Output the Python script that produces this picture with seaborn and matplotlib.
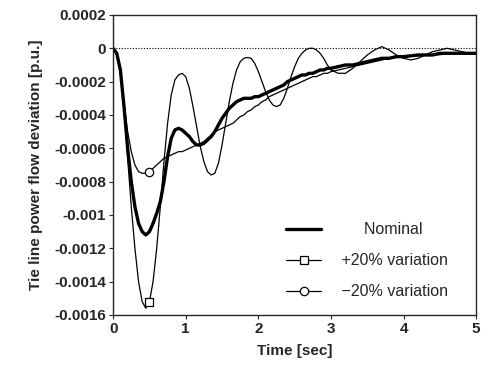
import numpy as np
import pandas as pd
import seaborn as sns
import matplotlib.pyplot as plt

# time grid: 0.05 s steps up to 3 s, then 0.1 s steps
time_s = np.round(np.r_[np.arange(0, 3.0001, 0.05), np.arange(3.1, 5.0001, 0.1)], 2)

nominal = [
    0, -0.00003, -0.00013, -0.00035, -0.0006, -0.0008, -0.00095, -0.00105, -0.0011, -0.00112,
    -0.0011, -0.00105, -0.00099, -0.00092, -0.0008, -0.00065, -0.00054, -0.00049, -0.00048, -0.00049,
    -0.00051, -0.00053, -0.00056, -0.00058, -0.00058, -0.00057, -0.00055, -0.00053, -0.0005, -0.00046,
    -0.00042, -0.00039, -0.00036, -0.00034, -0.00032, -0.00031, -0.0003, -0.0003, -0.0003, -0.00029,
    -0.00029, -0.00028, -0.00027, -0.00026, -0.00025, -0.00024, -0.00023, -0.00022, -0.0002, -0.00019,
    -0.00018, -0.00017, -0.00016, -0.00016, -0.00015, -0.00015, -0.00014, -0.00013, -0.00013, -0.00012,
    -0.00012,
    -0.00011, -0.0001, -0.0001, -0.00009, -0.00008, -0.00007, -0.00006, -0.00006, -0.00005, -0.00005,
    -0.000045, -0.00004, -0.00004, -0.00004, -0.00003, -0.00003, -0.00003, -0.00003, -0.00003, -0.00003,
]

plus20 = [
    0, -0.00003, -0.00013, -0.00037, -0.00066, -0.00095, -0.0012, -0.0014, -0.00152, -0.00156,
    -0.00152, -0.0014, -0.0012, -0.00095, -0.00068, -0.00045, -0.00028, -0.00019, -0.00016, -0.00015,
    -0.00017, -0.00024, -0.00035, -0.00047, -0.00059, -0.00068, -0.00074, -0.00076, -0.00075, -0.00069,
    -0.00058, -0.00045, -0.00032, -0.00021, -0.00013, -0.00008, -0.00006, -0.000055, -0.00006, -0.00009,
    -0.00014, -0.0002, -0.00026, -0.00031, -0.00034, -0.00035, -0.00034, -0.0003, -0.00024, -0.00017,
    -0.00011, -0.00006, -0.00003, -0.00001, 0.0, 0.0, -0.00001, -0.00003, -0.00006, -0.0001,
    -0.00013,
    -0.00015, -0.00015, -0.00012, -0.00008, -0.00004, -0.00001, 0.00001, -0.00001, -0.00004, -0.00006,
    -0.00007, -0.00006, -0.00004, -0.00002, -0.00001, 0.0, -0.00001, -0.00002, -0.00003, -0.00003,
]

minus20 = [
    0, -0.00004, -0.00015, -0.00033, -0.0005, -0.00062, -0.0007, -0.00074, -0.00075, -0.00075,
    -0.00074, -0.00072, -0.0007, -0.00068, -0.00066, -0.00065, -0.00064, -0.00063, -0.00062, -0.00062,
    -0.00061, -0.0006, -0.00059, -0.00058, -0.00057, -0.00056, -0.00054, -0.00052, -0.0005, -0.00049,
    -0.00048, -0.00047, -0.00046, -0.00045, -0.00043, -0.00041, -0.0004, -0.00038, -0.00037, -0.00035,
    -0.00034, -0.00032, -0.00031, -0.00029, -0.00028, -0.00027, -0.00026, -0.00025, -0.00024, -0.00023,
    -0.00022, -0.00021, -0.0002, -0.00019, -0.00018, -0.00017, -0.00017, -0.00016, -0.00015, -0.00015,
    -0.00014,
    -0.00013, -0.00012, -0.00011, -0.0001, -0.00009, -0.00008, -0.00007, -0.00006, -0.000055, -0.00005,
    -0.000048, -0.000045, -0.000043, -0.00004, -0.000038, -0.000035, -0.000033, -0.00003, -0.00003, -0.000028,
]

y_ticks = [0.0002, 0, -0.0002, -0.0004, -0.0006, -0.0008, -0.001, -0.0012, -0.0014, -0.0016]
y_tick_labels = ['0.0002', '0', '-0.0002', '-0.0004', '-0.0006', '-0.0008',
                 '-0.001', '-0.0012', '-0.0014', '-0.0016']
x_ticks = [0, 1, 2, 3, 4, 5]

df = pd.DataFrame({'t': time_s, 'nominal': nominal, 'plus20': plus20, 'minus20': minus20})

sns.set_style('ticks')
plt.rcParams['font.family'] = ['Liberation Sans', 'DejaVu Sans']

fig = plt.figure(figsize=(4.94, 3.65), dpi=100)
ax = fig.add_axes([0.229, 0.137, 0.735, 0.822])

ax.axhline(0, color='black', lw=0.8, ls=(0, (1, 1.5)), zorder=1)

sns.lineplot(data=df, x='t', y='plus20', ax=ax, color='black', lw=0.9,
             marker='s', markevery=[10], markersize=6, markerfacecolor='white',
             markeredgecolor='black', markeredgewidth=0.9, label='+20% variation')
sns.lineplot(data=df, x='t', y='minus20', ax=ax, color='black', lw=0.9,
             marker='o', markevery=[10], markersize=6, markerfacecolor='white',
             markeredgecolor='black', markeredgewidth=0.9, label='\u221220% variation')
sns.lineplot(data=df, x='t', y='nominal', ax=ax, color='black', lw=2.4, label='Nominal')

ax.set_xlim(0, 5)
ax.set_ylim(-0.0016, 0.0002)
ax.set_xticks(x_ticks)
ax.set_xticklabels([str(v) for v in x_ticks], fontsize=11, fontweight='bold')
ax.set_yticks(y_ticks)
ax.set_yticklabels(y_tick_labels, fontsize=11, fontweight='bold')
ax.tick_params(direction='out', length=3, width=0.8, pad=2)
for s in ax.spines.values():
    s.set_linewidth(1.0)

ax.set_xlabel('Time [sec]', fontsize=11, fontweight='bold', labelpad=6)
ax.set_ylabel('Tie line power flow deviation [p.u.]', fontsize=11, fontweight='bold', labelpad=8)

h, l = ax.get_legend_handles_labels()
order = [2, 0, 1]
ax.legend([h[i] for i in order], ['      Nominal', ' +20% variation', ' \u221220% variation'],
          loc='lower right', bbox_to_anchor=(0.962, 0.005), frameon=False, fontsize=11.5,
          handlelength=2.2, labelspacing=1.0, handletextpad=1.0)

fig.savefig('out.png', dpi=100)
